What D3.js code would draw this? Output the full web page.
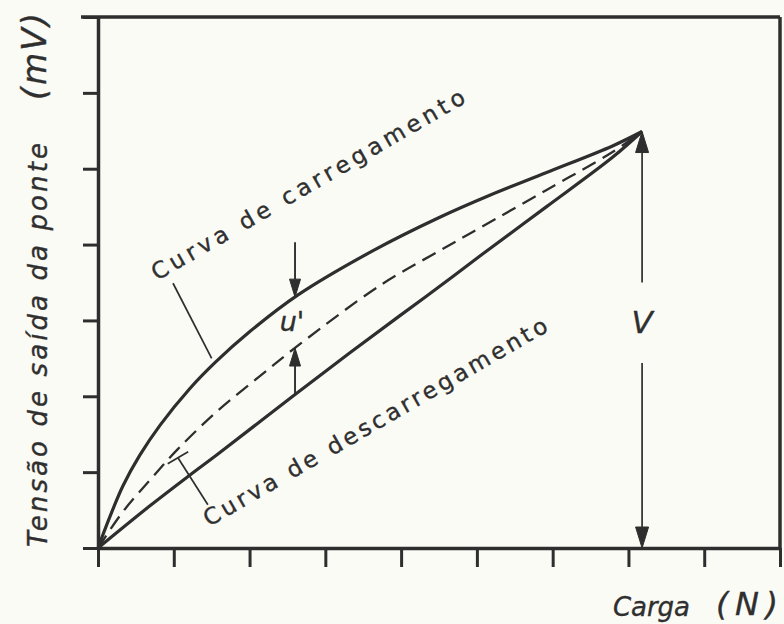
<!DOCTYPE html>
<html>
<head>
<meta charset="utf-8">
<script src="https://cdn.jsdelivr.net/npm/d3@7"></script>
<style>
  html, body { margin: 0; padding: 0; background: #fbfbf6; }
  svg { display: block; }
  text { fill: #2f2f2f; stroke: #2f2f2f; stroke-width: 0.35; font-family: "DejaVu Sans", sans-serif; }
</style>
</head>
<body>
<svg id="chart" width="784" height="624"></svg>
<script>
// Load axis (N) and bridge output (mV), in grid units
const xTicks = [0, 1, 2, 3, 4, 5, 6, 7, 8, 9];
const yTicks = [0, 1, 2, 3, 4, 5, 6, 7];

// Loading curve (carregamento)
const loadX = [0, 0.16, 0.33, 0.55, 0.82, 1.21, 1.55, 2.0, 2.63, 3.63, 4.51, 5.17, 5.92, 6.79, 7.18];
const loadY = [0, 0.42, 0.82, 1.22, 1.62, 2.10, 2.45, 2.85, 3.33, 3.92, 4.36, 4.65, 4.95, 5.30, 5.49];

// Unloading curve (descarregamento)
const unloadX = [0, 0.69, 1.21, 1.57, 2.57, 3.32, 3.98, 4.51, 5.04, 5.92, 6.79, 7.18];
const unloadY = [0, 0.56, 0.96, 1.23, 2.00, 2.57, 3.06, 3.45, 3.85, 4.50, 5.15, 5.49];

// Mean curve (dashed)
const meanX = [0, 0.33, 0.69, 1.05, 1.57, 2.14, 2.68, 3.72, 4.51, 5.04, 5.92, 6.79, 7.18];
const meanY = [0, 0.48, 0.90, 1.30, 1.80, 2.27, 2.70, 3.46, 3.92, 4.22, 4.72, 5.22, 5.49];

// Full-scale point and hysteresis marker
const peakX = 7.18, peakY = 5.49;
const hystX = 2.6, hystTop = 4.03;

const svg = d3.select("#chart");
const ink = "#2e2e2e";

const x = d3.scaleLinear().domain([0, 9]).range([98, 780]);
const y = d3.scaleLinear().domain([0, 7]).range([548, 17]);

// Frame: top and right borders
svg.append("line").attr("x1", 81).attr("x2", x(9)).attr("y1", y(7)).attr("y2", y(7))
  .attr("stroke", ink).attr("stroke-width", 3.5);
svg.append("line").attr("x1", x(9)).attr("x2", x(9)).attr("y1", y(7)).attr("y2", y(0))
  .attr("stroke", ink).attr("stroke-width", 3.5);

// Axes
const gx = svg.append("g").attr("transform", `translate(0,${y(0)})`)
  .call(d3.axisBottom(x).tickValues(xTicks).tickSize(19).tickSizeOuter(0).tickFormat(""));
const gy = svg.append("g").attr("transform", `translate(${x(0)},0)`)
  .call(d3.axisLeft(y).tickValues(yTicks).tickSize(15).tickSizeOuter(0).tickFormat(""));
[gx, gy].forEach(g => {
  g.select(".domain").attr("stroke", ink).attr("stroke-width", 3.5);
  g.selectAll(".tick line").attr("stroke", ink).attr("stroke-width", 3);
});

// Curves
const line = d3.line().x(d => x(d[0])).y(d => y(d[1])).curve(d3.curveCatmullRom.alpha(0.5));
const pts = (xs, ys) => xs.map((v, i) => [v, ys[i]]);

svg.append("path").datum(pts(meanX, meanY)).attr("d", line)
  .attr("fill", "none").attr("stroke", ink).attr("stroke-width", 2.3)
  .attr("stroke-dasharray", "15,8");
svg.append("path").datum(pts(loadX, loadY)).attr("d", line)
  .attr("fill", "none").attr("stroke", ink).attr("stroke-width", 3.2).attr("stroke-linejoin", "round");
svg.append("path").datum(pts(unloadX, unloadY)).attr("d", line)
  .attr("fill", "none").attr("stroke", ink).attr("stroke-width", 3.2).attr("stroke-linejoin", "round");

// Piecewise lookups on the curves
const loadAt = d3.scaleLinear().domain(loadX).range(loadY);
const unloadAt = d3.scaleLinear().domain(unloadX).range(unloadY);
const meanAt = d3.scaleLinear().domain(meanX).range(meanY);

// Arrow helper: shaft from (x1,y1) to tip (x2,y2), filled head
function arrow(x1, y1, x2, y2, headLen = 18, headW = 11, sw = 1.6) {
  const dx = x2 - x1, dy = y2 - y1, L = Math.hypot(dx, dy);
  const ux = dx / L, uy = dy / L;
  const bx = x2 - ux * headLen, by = y2 - uy * headLen;
  svg.append("line").attr("x1", x1).attr("y1", y1).attr("x2", bx).attr("y2", by)
    .attr("stroke", ink).attr("stroke-width", sw);
  svg.append("path")
    .attr("d", `M${x2},${y2}L${bx - uy * headW / 2},${by + ux * headW / 2}L${bx + uy * headW / 2},${by - ux * headW / 2}Z`)
    .attr("fill", ink).attr("stroke", ink).attr("stroke-width", 1).attr("stroke-linejoin", "round");
}

// Hysteresis arrows
arrow(x(hystX), y(hystTop), x(hystX), y(loadAt(hystX)), 18, 11, 1.9);
arrow(x(hystX), y(unloadAt(hystX)), x(hystX), y(meanAt(hystX)), 18, 11, 1.9);
svg.append("text").attr("x", x(hystX) - 3).attr("y", y(2.86))
  .attr("text-anchor", "middle").attr("font-style", "italic").attr("font-size", 27)
  .text("u'");

// Full-scale output V
const vGapTop = 3.5, vGapBot = 2.44;
arrow(x(peakX), y(vGapTop), x(peakX), y(peakY), 21, 13, 1.7);
arrow(x(peakX), y(vGapBot), x(peakX), y(0), 21, 13, 1.7);
svg.append("text").attr("x", x(peakX)).attr("y", y(2.84))
  .attr("text-anchor", "middle").attr("font-style", "italic").attr("font-size", 31)
  .text("V");

// Leader lines for the curve labels
const thin = (a, b) => svg.append("line")
  .attr("x1", x(a[0])).attr("y1", y(a[1])).attr("x2", x(b[0])).attr("y2", y(b[1]))
  .attr("stroke", ink).attr("stroke-width", 1.7);
thin([0.99, 3.49], [1.5, 2.50]);
thin([1.45, 0.57], [1.055, 1.19]);
thin([0.92, 1.11], [1.19, 1.27]);

// Curve labels
svg.append("text").attr("transform", "translate(157,281) rotate(-30)")
  .attr("font-size", 23).attr("textLength", 358).attr("lengthAdjust", "spacing")
  .text("Curva de carregamento");
svg.append("text").attr("transform", "translate(209,527) rotate(-30)")
  .attr("font-size", 23).attr("textLength", 393).attr("lengthAdjust", "spacing")
  .text("Curva de descarregamento");

// Axis titles
svg.append("text").attr("transform", "translate(47,547) rotate(-90)")
  .attr("font-style", "italic").attr("font-size", 26)
  .attr("textLength", 404).attr("lengthAdjust", "spacing")
  .text("Tensão de saída da ponte");
svg.append("text").attr("transform", "translate(46,100) rotate(-90)")
  .attr("font-style", "italic").attr("font-size", 33)
  .attr("textLength", 87).attr("lengthAdjust", "spacing")
  .text("(mV)");

svg.append("text").attr("x", 613).attr("y", 616)
  .attr("font-style", "italic").attr("font-size", 26)
  .attr("textLength", 77).attr("lengthAdjust", "spacing")
  .text("Carga");
svg.append("text").attr("x", 716).attr("y", 615)
  .attr("font-style", "italic").attr("font-size", 32)
  .attr("textLength", 62).attr("lengthAdjust", "spacing")
  .text("(N)");
</script>
</body>
</html>
